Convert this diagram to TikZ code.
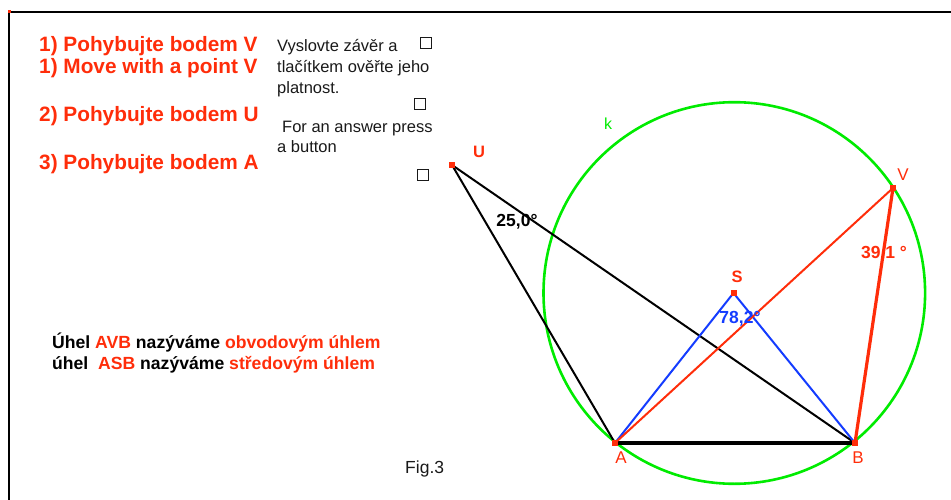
\documentclass[tikz,border=0pt]{standalone}
\usepackage{fontspec}
\setmainfont{Liberation Sans}
\definecolor{gred}{RGB}{255,45,10}
\definecolor{ggreen}{RGB}{0,235,0}
\definecolor{gblue}{RGB}{20,60,255}
\definecolor{gtext}{RGB}{25,25,25}
\begin{document}
\begin{tikzpicture}[x=1pt,y=-1pt,
  pt/.style={fill=gred,inner sep=0pt,minimum size=6pt,rectangle},
  task/.style={anchor=base west,inner sep=0pt,text=gred,font=\fontsize{20.8}{24}\selectfont\bfseries},
  note/.style={anchor=base west,inner sep=0pt,text=gtext,font=\fontsize{16.5}{20}\selectfont},
  defn/.style={anchor=base west,inner sep=0pt,text=black,font=\fontsize{17.6}{20}\selectfont\bfseries},
  chk/.style={draw=gtext,line width=0.9pt,minimum size=11pt,inner sep=0pt,rectangle},
  plab/.style={text=gred,font=\fontsize{16}{18}\selectfont},
  alab/.style={font=\fontsize{17.5}{20}\selectfont\bfseries,inner sep=0pt}]
\useasboundingbox (0,0) rectangle (951,500);
% frame
\draw[line width=1.2pt] (9,500) -- (9,12) -- (951,12);
\fill[gred] (7.5,10.5) rectangle (10.5,13.5);
% left texts
\node[task] (t1) at (39,52) {1) Pohybujte bodem V};
\node[task] (t2) at (39,74) {1) Move with a point V};
\node[task] (t3) at (39,122) {2) Pohybujte bodem U};
\node[task] (t4) at (39,170) {3) Pohybujte bodem A};
\node[note] (n1) at (277,52) {Vyslovte závěr a};
\node[note] (n2) at (277,73) {tlačítkem ověřte jeho};
\node[note] (n3) at (277,93.5) {platnost.};
\node[note] (n4) at (282,133) {For an answer press};
\node[note] (n5) at (277,153) {a button};
\node[chk] (c1) at (425.5,42.5) {};
\node[chk] (c2) at (419.5,104) {};
\node[chk] (c3) at (423,175) {};
\node[defn] (d1) at (52,348) {Úhel \textcolor{gred}{AVB} nazýváme \textcolor{gred}{obvodovým úhlem}};
\node[defn] (d2) at (52,369) {úhel \ \textcolor{gred}{ASB} nazýváme \textcolor{gred}{středovým úhlem}};
\node[note,font=\fontsize{17.5}{20}\selectfont] (fig) at (405,473) {Fig.3};
% points
\coordinate (S) at (733.5,293);
\coordinate (A) at (615,443);
\coordinate (B) at (855,443);
\coordinate (V) at (893,188);
\coordinate (U) at (452,165);
% circle k
\draw[ggreen,line width=2.6pt] (S) ++(0.8,0) circle (190.8pt);
% black triangle
\draw[black,line width=2pt] (U) -- (A);
\draw[black,line width=2pt] (U) -- (B);
\draw[black,line width=3.2pt] (A) -- (B);
% blue central angle
\draw[gblue,line width=2pt] (A) -- (S) -- (B);
% red inscribed angle
\draw[gred,line width=2pt] (A) -- (V);
\draw[gred,line width=3.2pt] (V) -- (B);
% point markers
\node[pt] (pS) at (S) {};
\node[pt] (pA) at (A) {};
\node[pt] (pB) at (B) {};
\node[pt] (pV) at (V) {};
\node[pt] (pU) at (U) {};
% labels
\node[plab,font=\fontsize{16.5}{18}\selectfont\bfseries] (lU) at (479,152) {U};
\node[plab,font=\fontsize{17}{18}\selectfont] (lV) at (903,175) {V};
\node[plab,font=\fontsize{16.5}{18}\selectfont\bfseries] (lS) at (737,277) {S};
\node[plab,font=\fontsize{17}{18}\selectfont] (lA) at (621,458) {A};
\node[plab,font=\fontsize{17}{18}\selectfont] (lB) at (858,458) {B};
\node[plab,text=ggreen,font=\fontsize{16}{18}\selectfont] (lk) at (608,124) {k};
\node[alab,text=black] (aU) at (517,222) {25,0°};
\node[alab,text=gred] (aV) at (884,254) {39,1 °};
\node[alab,text=gblue] (aS) at (740,319) {78,2°};
\end{tikzpicture}
\end{document}
